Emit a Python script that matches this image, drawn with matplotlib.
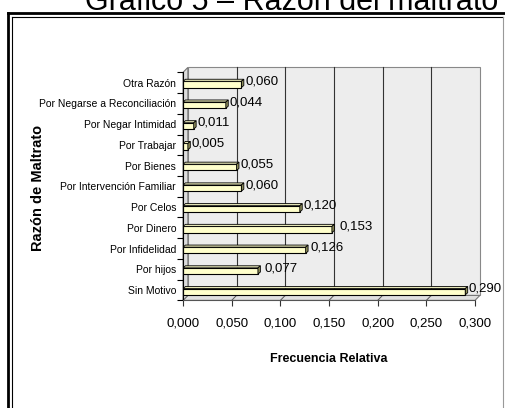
import numpy as np
import matplotlib.pyplot as plt
from matplotlib.patches import Polygon
from matplotlib.lines import Line2D

plt.rcParams['font.family'] = ['Liberation Sans', 'DejaVu Sans']

# datos (de abajo hacia arriba)
razones = ['Sin Motivo', 'Por hijos', 'Por Infidelidad', 'Por Dinero', 'Por Celos',
           'Por Intervención Familiar', 'Por Bienes', 'Por Trabajar',
           'Por Negar Intimidad', 'Por Negarse a Reconciliación', 'Otra Razón']
frecuencia = [0.290, 0.077, 0.126, 0.153, 0.120, 0.060, 0.055, 0.005, 0.011, 0.044, 0.060]
etiquetas = ['0,290', '0,077', '0,126', '0,153', '0,120', '0,060', '0,055', '0,005',
             '0,011', '0,044', '0,060']
xticks = [0.0, 0.05, 0.10, 0.15, 0.20, 0.25, 0.30]
xtick_labels = ['0,000', '0,050', '0,100', '0,150', '0,200', '0,250', '0,300']

# corrimiento extra de algunas etiquetas (como en el original)
desplaz = [0, 0.003, 0.0015, 0.004, 0, 0, 0, 0, 0, 0, 0]

W, H = 505, 408
fig = plt.figure(figsize=(W / 100, H / 100), dpi=100)
ax = fig.add_axes([183 / W, (H - 300.4) / H, 292 / W, 228 / H])
ax.set_facecolor('none')
ax.set_xlim(0, 0.3)
ax.set_ylim(-0.5, 10.5)

# profundidad 3D de las paredes y de las barras
dx, dy = 0.005, 0.24
bdx, bdy = 0.0025, 0.1
n = len(razones)
y = np.arange(n)

# pared del fondo, piso y pared izquierda
wall = Polygon([(dx, -0.5 + dy), (0.3 + dx, -0.5 + dy), (0.3 + dx, 10.5 + dy), (dx, 10.5 + dy)],
               closed=True, facecolor='#ededed', edgecolor='#888888', lw=0.8,
               clip_on=False, zorder=0)
floor = Polygon([(0, -0.5), (0.3, -0.5), (0.3 + dx, -0.5 + dy), (dx, -0.5 + dy)],
                closed=True, facecolor='#e0e0e0', edgecolor='#777777', lw=0.8,
                clip_on=False, zorder=0.5)
lwall = Polygon([(0, -0.5), (dx, -0.5 + dy), (dx, 10.5 + dy), (0, 10.5)],
                closed=True, facecolor='#dddddd', edgecolor='#777777', lw=0.8,
                clip_on=False, zorder=0.5)
ax.add_patch(wall)
ax.add_patch(floor)
ax.add_patch(lwall)
for xt in xticks[1:-1]:
    ax.plot([xt + dx, xt + dx], [-0.5 + dy, 10.5 + dy], color='#333333', lw=0.8,
            clip_on=False, zorder=0.6)
    ax.plot([xt, xt + dx], [-0.5, -0.5 + dy], color='#555555', lw=0.7,
            clip_on=False, zorder=0.6)

# barras
yb = y - 0.23
hb = 0.3
ax.barh(yb + hb / 2, frecuencia, height=hb, color='#ffffcc', edgecolor='black',
        lw=0.8, zorder=2)
for yi, w in zip(yb, frecuencia):
    top = yi + hb
    ax.add_patch(Polygon([(0, top), (w, top), (w + bdx, top + bdy), (bdx, top + bdy)],
                         closed=True, facecolor='#e8e8b8', edgecolor='black', lw=0.6,
                         zorder=2))
    ax.add_patch(Polygon([(w, yi), (w + bdx, yi + bdy), (w + bdx, top + bdy), (w, top)],
                         closed=True, facecolor='#8c8c5a', edgecolor='black', lw=0.6,
                         zorder=2))

for yi, w, lab, d in zip(y, frecuencia, etiquetas, desplaz):
    ax.text(w + bdx + 0.0012 + d, yi + 0.06, lab, fontsize=9.5, va='center', ha='left',
            zorder=3, clip_on=False)

# ejes
for s in ['top', 'right']:
    ax.spines[s].set_visible(False)
ax.spines['left'].set_color('black')
ax.spines['left'].set_linewidth(0.8)
ax.spines['bottom'].set_color('#555555')
ax.spines['bottom'].set_linewidth(0.8)

ax.set_yticks(np.arange(n + 1) - 0.5)
ax.set_yticklabels([])
ax.set_yticks(y, minor=True)
ax.set_yticklabels(razones, minor=True, fontsize=7.5)
ax.tick_params(axis='y', which='major', length=4, width=0.8, direction='out')
ax.tick_params(axis='y', which='minor', length=0, pad=5)

ax.set_xticks(xticks)
ax.set_xticklabels(xtick_labels, fontsize=9.5)
ax.tick_params(axis='x', length=4, width=0.8, direction='out', color='#333333', pad=8)

fig.text(38 / W, 1 - 188 / H, 'Razón de Maltrato', rotation=90, fontsize=10.5,
         fontweight='bold', ha='center', va='center')
fig.text(329 / W, 1 - 359 / H, 'Frecuencia Relativa', fontsize=9, fontweight='bold',
         ha='center', va='center')
# el título queda recortado arriba, igual que en el original
fig.text(292 / W, 1 - 10 / H, 'Gráfico 5 – Razón del maltrato', fontsize=22,
         ha='center', va='baseline')

# marco doble
fig.add_artist(Line2D([7.5 / W, 7.5 / W], [0, 1 - 12.5 / H], color='black', lw=2.0))
fig.add_artist(Line2D([7.5 / W, 1], [1 - 12.5 / H, 1 - 12.5 / H], color='black', lw=2.0))
fig.add_artist(Line2D([11.5 / W, 11.5 / W], [0, 1 - 16.5 / H], color='black', lw=0.8))
fig.add_artist(Line2D([11.5 / W, 503 / W], [1 - 16.5 / H, 1 - 16.5 / H], color='black', lw=0.8))
fig.add_artist(Line2D([503 / W, 503 / W], [0, 1 - 16.5 / H], color='#999999', lw=0.8))

fig.savefig('out.png', dpi=100)
